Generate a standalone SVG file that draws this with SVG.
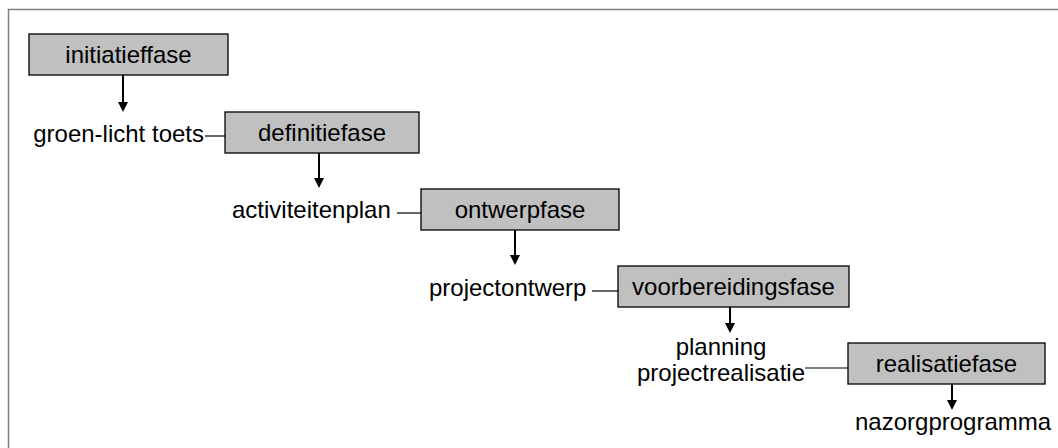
<svg xmlns="http://www.w3.org/2000/svg" width="1058" height="448" viewBox="0 0 1058 448">
<style>
.box{fill:#c0c0c0;stroke:#000;stroke-width:1.3}
.t{font-family:"Liberation Sans",Arial,sans-serif;font-size:24px;fill:#000}
.c{text-anchor:middle}
.e{text-anchor:end}
.ln{stroke:#000;stroke-width:1.2;fill:none}
.ar{stroke:#000;stroke-width:2;fill:none;marker-end:url(#ah)}
</style>
<defs>
<marker id="ah" markerUnits="userSpaceOnUse" markerWidth="10" markerHeight="11" refX="5" refY="10" orient="auto-start-reverse" viewBox="0 0 10 11">
<path d="M0,0 L10,0 L5,10 Z" fill="#000" transform="rotate(-90 5 5)"/>
</marker>
</defs>
<rect width="1058" height="448" fill="#fff"/>
<path d="M8.5,448 V9.5 H1058" fill="none" stroke="#808080" stroke-width="1.5"/>

<g id="connectors">
<line class="ln" x1="205" y1="136" x2="225" y2="136"/>
<line class="ln" x1="397" y1="213" x2="421" y2="213"/>
<line class="ln" x1="592" y1="291" x2="618" y2="291"/>
<line class="ln" x1="805" y1="368" x2="848" y2="368"/>
<path d="M123,75 V103" stroke="#000" stroke-width="2"/><path d="M118,102 H128 L123,112 Z"/>
<path d="M319,153 V179" stroke="#000" stroke-width="2"/><path d="M314,178 H324 L319,188 Z"/>
<path d="M515,230 V256" stroke="#000" stroke-width="2"/><path d="M510,255 H520 L515,265 Z"/>
<path d="M730,307 V324" stroke="#000" stroke-width="2"/><path d="M725,323 H735 L730,333 Z"/>
<path d="M952,384 V401" stroke="#000" stroke-width="2"/><path d="M947,400 H957 L952,410 Z"/>
</g>

<g id="initiatieffase">
<rect class="box" x="29" y="34" width="199" height="41"/>
<text class="t c" x="128.5" y="63">initiatieffase</text>
</g>
<g id="groen-licht-toets">
<text class="t e" x="204" y="142">groen-licht toets</text>
</g>
<g id="definitiefase">
<rect class="box" x="225" y="112" width="194" height="41"/>
<text class="t c" x="322" y="141">definitiefase</text>
</g>
<g id="activiteitenplan">
<text class="t" x="232" y="218">activiteitenplan</text>
</g>
<g id="ontwerpfase">
<rect class="box" x="421" y="189" width="198" height="41"/>
<text class="t c" x="520" y="218">ontwerpfase</text>
</g>
<g id="projectontwerp">
<text class="t" x="429" y="296">projectontwerp</text>
</g>
<g id="voorbereidingsfase">
<rect class="box" x="618" y="266" width="231" height="41"/>
<text class="t c" x="733.5" y="295">voorbereidingsfase</text>
</g>
<g id="planning-projectrealisatie">
<text class="t c" x="721" y="355">planning</text>
<text class="t c" x="721" y="381">projectrealisatie</text>
</g>
<g id="realisatiefase">
<rect class="box" x="848" y="343" width="197" height="41"/>
<text class="t c" x="946.5" y="372">realisatiefase</text>
</g>
<g id="nazorgprogramma">
<text class="t" x="855" y="430">nazorgprogramma</text>
</g>
</svg>
